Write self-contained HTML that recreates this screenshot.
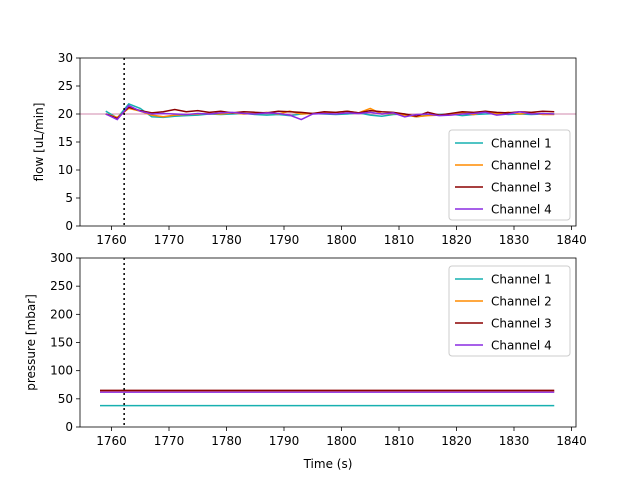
<!DOCTYPE html>
<html><head><meta charset="utf-8"><style>body{margin:0;background:#fff}svg{font-family:"DejaVu Sans","Liberation Sans",sans-serif}</style></head>
<body>
<svg id="c" width="640" height="480" xmlns="http://www.w3.org/2000/svg"></svg>
<script>
const times=[1759,1761,1763,1765,1767,1769,1771,1773,1775,1777,1779,1781,1783,1785,1787,1789,1791,1793,1795,1797,1799,1801,1803,1805,1807,1809,1811,1813,1815,1817,1819,1821,1823,1825,1827,1829,1831,1833,1835,1837];
const flow1=[20.5,19.3,21.8,21.0,19.5,19.4,19.6,19.7,19.8,20.0,19.9,20.0,20.1,19.9,19.8,19.9,19.7,20.0,20.1,20.0,19.9,20.0,20.2,19.8,19.6,19.9,20.0,19.5,19.8,19.9,20.0,19.7,19.9,20.0,20.1,19.9,20.0,19.9,20.0,20.0];
const flow2=[20.0,19.4,21.0,20.5,19.8,19.5,19.8,19.9,20.0,20.1,20.0,20.2,20.0,20.1,20.3,20.0,20.5,20.0,20.1,20.2,20.3,20.5,20.2,21.0,20.0,20.1,19.8,19.5,19.7,19.8,20.0,20.2,19.9,20.5,20.0,20.3,20.0,20.2,19.9,19.9];
const flow3=[20.0,19.2,21.2,20.6,20.2,20.4,20.8,20.4,20.6,20.3,20.5,20.2,20.4,20.3,20.2,20.5,20.4,20.3,20.1,20.4,20.3,20.5,20.2,20.6,20.4,20.3,20.0,19.6,20.3,19.8,20.1,20.4,20.3,20.5,20.3,20.2,20.4,20.3,20.5,20.4];
const flow4=[20.0,19.0,21.5,20.5,20.0,20.1,20.0,19.9,20.1,20.0,20.2,20.3,20.1,20.0,20.2,20.1,19.8,19.0,20.0,20.1,20.0,20.2,20.1,20.3,20.0,20.2,19.5,19.9,20.0,19.7,19.8,20.0,20.1,20.3,19.8,20.0,20.4,20.0,20.1,20.0];
const pressTimes=[1758,1837];
const pressures=[38,63,65,62];
const colors=["#17b0b0","#ff8c00","#8b0000","#8a2be2"];
const names=["Channel 1","Channel 2","Channel 3","Channel 4"];
const xTicks=[1760,1770,1780,1790,1800,1810,1820,1830,1840];
const flowTicks=[0,5,10,15,20,25,30];
const pressTicks=[0,50,100,150,200,250,300];
const marker=1762.2, setpoint=20;
const svg=document.getElementById('c');const NS="http://www.w3.org/2000/svg";
function mk(t,a,txt){const e=document.createElementNS(NS,t);for(const k in a)e.setAttribute(k,a[k]);if(txt!=null)e.textContent=txt;svg.appendChild(e);return e;}
const X0=80,X1=576;const xs=v=>111.5+(v-1760)*5.75;
function axes(top,bot,ys,ticks,label,pname){
  for(const t of ticks){const y=ys(t);
    const l=mk('line',{x1:X0-4,x2:X0,y1:y,y2:y,stroke:'#000','stroke-width':0.8});
    
    const tx=mk('text',{x:X0-7,y:y+4,'font-size':12,'text-anchor':'end'},t);
    }
  for(const t of xTicks){const x=xs(t);
    const l=mk('line',{x1:x,x2:x,y1:bot,y2:bot+4,stroke:'#000','stroke-width':0.8});
    
    const tx=mk('text',{x:x,y:bot+18,'font-size':12,'text-anchor':'middle'},t);
    }
  const yt=mk('text',{x:0,y:0,'font-size':12,'text-anchor':'middle',transform:`translate(${pname==='flow'?43:35},${(top+bot)/2}) rotate(-90)`},label);
  
  const d=mk('line',{x1:xs(marker),x2:xs(marker),y1:top,y2:bot,stroke:'#000','stroke-width':1.5,'stroke-dasharray':'2,3'});
  
}
function frame(top,bot,pname){const r=mk('rect',{x:X0,y:top,width:X1-X0,height:bot-top,fill:'none',stroke:'#000','stroke-width':0.8});
  }
function legend(x,y,pname){
  const b=mk('rect',{x:x,y:y,width:121,height:90,rx:3,fill:'#fff','fill-opacity':0.8,stroke:'#ccc'});
  
  names.forEach((n,i)=>{const yy=y+13+i*22;
    const l=mk('line',{x1:x+6,x2:x+34,y1:yy,y2:yy,stroke:colors[i],'stroke-width':1.5});
    
    const t=mk('text',{x:x+42,y:yy+4.5,'font-size':12},n);
    });
}
const fT=58,fB=226,fy=v=>fB-(v/30)*(fB-fT);
const sp=mk('line',{x1:X0,x2:X1,y1:fy(setpoint),y2:fy(setpoint),stroke:'#c06090','stroke-width':0.8});

[flow1,flow2,flow3,flow4].forEach((s,i)=>{
  const p=mk('polyline',{points:s.map((v,j)=>xs(times[j])+','+fy(v)).join(' '),fill:'none',stroke:colors[i],'stroke-width':1.5});
  });
axes(fT,fB,fy,flowTicks,'flow [uL/min]','flow');frame(fT,fB,'flow');legend(449,130,'flow');
const pT=258,pB=427,py=v=>pB-(v/300)*(pB-pT);
pressures.forEach((v,i)=>{
  const l=mk('line',{x1:xs(pressTimes[0]),x2:xs(pressTimes[1]),y1:py(v),y2:py(v),stroke:colors[i],'stroke-width':1.5});
  });
axes(pT,pB,py,pressTicks,'pressure [mbar]','pressure');frame(pT,pB,'pressure');legend(449,266,'pressure');
const xt=mk('text',{x:328,y:468,'font-size':12,'text-anchor':'middle'},'Time (s)');

</script>
</body></html>
